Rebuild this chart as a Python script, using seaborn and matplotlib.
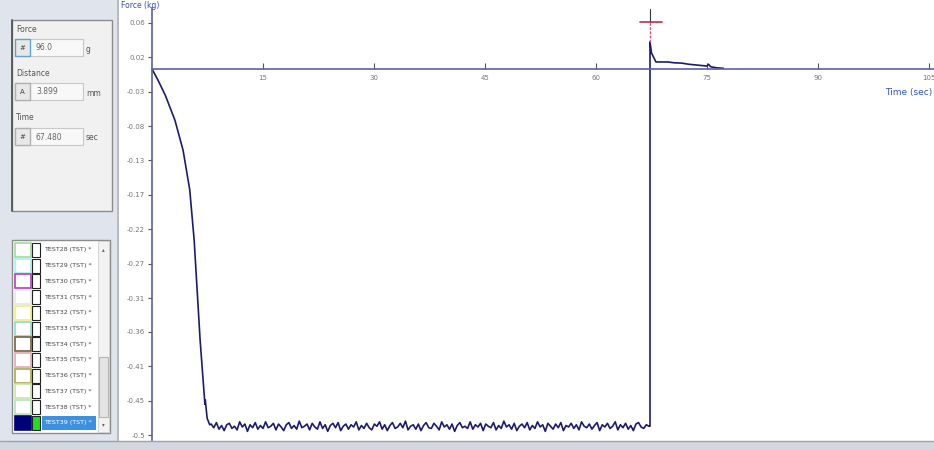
import numpy as np
import pandas as pd
import matplotlib
matplotlib.use("Agg")
import matplotlib.pyplot as plt
from matplotlib.patches import Rectangle
import seaborn as sns

# ---- test record: force (kg) against time (s) ----
# compression ramp
ramp_time = [0.0, 0.8, 1.8, 3.1, 4.2, 5.1, 5.7, 6.1, 6.5, 6.9, 7.15, 7.2, 7.45, 7.8]
ramp_force = [0.0, -0.015, -0.036, -0.070, -0.111, -0.165, -0.234, -0.302,
              -0.370, -0.424, -0.458, -0.452, -0.477, -0.486]

# hold phase, one sample every 0.35 s starting at 8.0 s
hold_start = 8.0
hold_step = 0.35
hold_force = [
    -0.485, -0.490, -0.483, -0.492, -0.487, -0.494, -0.486, -0.484, -0.491, -0.488,
    -0.493, -0.482, -0.489, -0.485, -0.495, -0.486, -0.490, -0.483, -0.492, -0.487,
    -0.491, -0.482, -0.490, -0.488, -0.484, -0.493, -0.485, -0.489, -0.494, -0.486,
    -0.483, -0.491, -0.487, -0.492, -0.481, -0.490, -0.488, -0.485, -0.493, -0.484,
    -0.489, -0.492, -0.482, -0.491, -0.486, -0.495, -0.487, -0.484, -0.490, -0.483,
    -0.494, -0.488, -0.485, -0.492, -0.486, -0.489, -0.482, -0.493, -0.487, -0.491,
    -0.484, -0.490, -0.493, -0.485, -0.488, -0.482, -0.492, -0.486, -0.494, -0.487,
    -0.483, -0.491, -0.489, -0.484, -0.490, -0.481, -0.493, -0.488, -0.486, -0.492,
    -0.485, -0.494, -0.487, -0.483, -0.490, -0.491, -0.484, -0.488, -0.493, -0.482,
    -0.489, -0.486, -0.492, -0.485, -0.495, -0.487, -0.483, -0.490, -0.488, -0.491,
    -0.482, -0.492, -0.486, -0.489, -0.484, -0.494, -0.485, -0.488, -0.490, -0.483,
    -0.493, -0.487, -0.491, -0.481, -0.489, -0.486, -0.492, -0.484, -0.494, -0.488,
    -0.485, -0.490, -0.483, -0.493, -0.487, -0.491, -0.482, -0.489, -0.486, -0.495,
    -0.484, -0.488, -0.492, -0.485, -0.490, -0.483, -0.494, -0.487, -0.489, -0.484,
    -0.491, -0.486, -0.493, -0.482, -0.488, -0.490, -0.485, -0.492, -0.487, -0.483,
    -0.494, -0.486, -0.489, -0.484, -0.491, -0.488, -0.482, -0.493, -0.486, -0.490,
    -0.484, -0.492, -0.487, -0.494, -0.485, -0.483, -0.489, -0.491, -0.486, -0.488,
]

# release and relaxation back to zero
release_time = [67.3, 67.3, 67.5, 68.1, 69.7, 70.5, 71.6, 72.5, 73.5, 74.5, 75.0, 75.2, 75.5, 76.4, 77.2]
release_force = [-0.488, 0.037, 0.022, 0.0096, 0.0096, 0.0085, 0.008, 0.0065, 0.0055, 0.0045,
                 0.004, 0.0065, 0.003, 0.0015, 0.001]

# axis ticks
time_ticks = [15, 30, 45, 60, 75, 90, 105]
time_labels = ["15", "30", "45", "60", "75", "90", "105"]
force_ticks = [0.063, 0.016, -0.031, -0.078, -0.125, -0.172, -0.219,
               -0.266, -0.313, -0.359, -0.406, -0.453, -0.5]
force_labels = ["0.06", "0.02", "-0.03", "-0.08", "-0.13", "-0.17", "-0.22",
                "-0.27", "-0.31", "-0.36", "-0.41", "-0.45", "-0.5"]

# cursor readout
cursor_time = 67.3
cursor_force = 0.064
readouts = [("Force", "96.0", "g"), ("Distance", "3.899", "mm"), ("Time", "67.480", "sec")]

# curve list in the side panel
curve_names = ["TEST28 (TST) *", "TEST29 (TST) *", "TEST30 (TST) *", "TEST31 (TST) *",
               "TEST32 (TST) *", "TEST33 (TST) *", "TEST34 (TST) *", "TEST35 (TST) *",
               "TEST36 (TST) *", "TEST37 (TST) *", "TEST38 (TST) *", "TEST39 (TST) *"]
curve_colors = ["#9fd89f", "#a8eeee", "#b040b8", "#e6e6e6", "#eeee80", "#90d8c8",
                "#7a6040", "#e0a8b0", "#a8a850", "#c8e4a8", "#b8e0b8", "#00007a"]

hold_time = list(hold_start + hold_step * np.arange(len(hold_force)))
df = pd.DataFrame({
    "time": ramp_time + hold_time + release_time,
    "force": ramp_force + hold_force + release_force,
})

sns.set_style("white")
plt.rcParams["font.family"] = ["DejaVu Sans"]

W, H = 934, 450
fig = plt.figure(figsize=(W / 100, H / 100), dpi=100)

# ---- background / side panel, drawn in pixel coordinates ----
bg = fig.add_axes([0, 0, 1, 1], zorder=0)
bg.set_xlim(0, W)
bg.set_ylim(H, 0)
bg.axis("off")
bg.add_patch(Rectangle((0, 0), 117, H, facecolor="#dfe4ed", edgecolor="none"))
bg.add_patch(Rectangle((117, 0), W - 117, 441, facecolor="white", edgecolor="none"))
bg.add_patch(Rectangle((0, 441), W, 9, facecolor="#d3d7df", edgecolor="none"))
bg.plot([118, 118], [0, 441], color="#a9adb8", lw=1.2)
bg.plot([0, W], [441, 441], color="#9ea2ad", lw=1)

# readout box
bg.add_patch(Rectangle((12, 20), 100, 191, facecolor="#f1f1f1", edgecolor="#8c8c8c", lw=1))
bg.plot([12, 12], [20, 211], color="#555555", lw=1.3)
row_y = [29, 73, 118]
for (name, val, unit), ry in zip(readouts, row_y):
    bg.text(16, ry, name, fontsize=5.5, color="#555555", va="center", ha="left")
    bg.add_patch(Rectangle((15, ry + 10), 68, 17, facecolor="#f8f8f8", edgecolor="#c8c8c8", lw=0.8))
    ec = "#5aa6c8" if name == "Force" else "#b0b0b0"
    bg.add_patch(Rectangle((15, ry + 10), 15, 17, facecolor="#e8e8e8", edgecolor=ec, lw=1))
    bg.text(22.5, ry + 19, "#" if name != "Distance" else "A", fontsize=5, color="#444444",
            ha="center", va="center")
    bg.text(36, ry + 19, val, fontsize=5.5, color="#666666", ha="left", va="center")
    bg.text(86, ry + 20, unit, fontsize=5.5, color="#555555", ha="left", va="center")

# curve list box
bg.add_patch(Rectangle((12, 240), 98, 193, facecolor="white", edgecolor="#8c8c8c", lw=1))
row0, dy = 250, 15.7
for i, (nm, col) in enumerate(zip(curve_names, curve_colors)):
    y = row0 + i * dy
    last = i == len(curve_names) - 1
    bg.add_patch(Rectangle((15, y - 7), 16, 14, facecolor=col if last else "white",
                           edgecolor=col, lw=1.2))
    bg.add_patch(Rectangle((32, y - 7), 8, 14, facecolor="#22dd22" if last else "white",
                           edgecolor="#222222", lw=0.8))
    if last:
        bg.add_patch(Rectangle((42, y - 7), 54, 14, facecolor="#3d8fe0", edgecolor="none"))
    bg.text(44, y, nm, fontsize=4.6, color="white" if last else "#444444",
            ha="left", va="center")
# scroll bar
bg.add_patch(Rectangle((98, 241), 11, 191, facecolor="#f2f2f2", edgecolor="#cfcfcf", lw=0.6))
bg.add_patch(Rectangle((99, 357), 9, 60, facecolor="#e4e4e4", edgecolor="#b5b5b5", lw=0.8))
bg.text(103.5, 250, "\u25b4", fontsize=4, color="#666666", ha="center", va="center")
bg.text(103.5, 425, "\u25be", fontsize=4, color="#666666", ha="center", va="center")

# ---- force/time chart ----
ax = fig.add_axes([152 / W, 10 / H, (W - 152) / W, 432 / H], zorder=1)
ax.set_facecolor("none")
sns.lineplot(data=df, x="time", y="force", ax=ax, color="#1c1c6e", lw=1.2,
             estimator=None, sort=False)
ax.set_xlim(0, 105.68)
ax.set_ylim(-0.5068, 0.0833)

axis_col = "#5c60a0"
for s in ("top", "right"):
    ax.spines[s].set_visible(False)
ax.spines["left"].set_color(axis_col)
ax.spines["left"].set_linewidth(1.2)
ax.spines["bottom"].set_position(("data", 0))
ax.spines["bottom"].set_color(axis_col)
ax.spines["bottom"].set_linewidth(1.2)

ax.set_xticks(time_ticks)
ax.set_xticklabels(time_labels)
ax.set_yticks(force_ticks)
ax.set_yticklabels(force_labels)
ax.tick_params(axis="x", direction="in", length=4, width=0.8, color="#555555",
               labelsize=5, labelcolor="#777777", pad=4, bottom=True)
ax.tick_params(axis="y", direction="out", length=3, width=0.8, color="#555555",
               labelsize=5, labelcolor="#777777", pad=2, left=True)
ax.set_xlabel("")
ax.set_ylabel("")

# cursor
ax.plot([cursor_time, cursor_time], [cursor_force, 0.0833 - 0.002], color="#333344", lw=0.8)
ax.plot([cursor_time, cursor_time], [0.037, cursor_force], color="#e05070", lw=1, ls=(0, (2, 1)))
ax.plot([cursor_time - 1.4, cursor_time + 1.6], [cursor_force, cursor_force], color="#c03048", lw=1.2)

# axis titles
fig.text(121 / W, 1 - 5 / H, "Force (kg)", fontsize=5.5, color="#3a4ab8", ha="left", va="center")
fig.text(932 / W, 1 - 92 / H, "Time (sec)", fontsize=6.5, color="#2f55c0", ha="right", va="center")

fig.savefig("out.png", dpi=100)
